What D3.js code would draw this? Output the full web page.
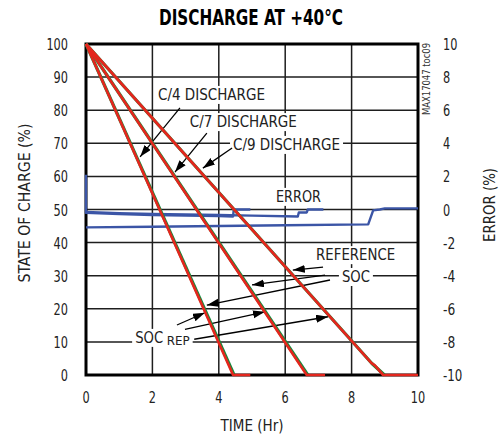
<!DOCTYPE html>
<html><head><meta charset="utf-8">
<script src="https://cdn.jsdelivr.net/npm/d3@7"></script>
<style>
html,body{margin:0;padding:0;background:#fff;}
svg text{font-family:"Liberation Sans Narrow","DejaVu Sans Condensed","Liberation Sans",sans-serif;fill:#222;}
</style></head>
<body><svg id="c" width="500" height="438"></svg>
<script>
// ---------------- data ----------------
const xTicks = [0, 2, 4, 6, 8, 10];
const socTicks = [0, 10, 20, 30, 40, 50, 60, 70, 80, 90, 100];
const errTicks = [-10, -8, -6, -4, -2, 0, 2, 4, 6, 8, 10];

// SOC_REP (red) : [time hr, SOC %]
const socRepC4 = [[0,100],[4.43,0],[4.95,0]];
const socRepC7 = [[0,100],[6.65,0],[7.2,0]];
const socRepC9 = [[0,100],[8.6,3.6],[8.7,2.9],[8.95,0],[10,0]];
// Reference SOC (green)
const refC4 = [[0,100],[4.46,0]];
const refC7 = [[0,100],[6.68,0]];
const refC9 = [[0,100],[8.62,3.4],[8.99,0]];
// Error (blue) : [time hr, error %]
const errC4 = [[0,2.1],[0,-0.2],[1,-0.28],[2,-0.33],[3,-0.37],[4,-0.4],[4.43,-0.42],[4.45,0.0],[4.95,0.0]];
const errC7 = [[0,-0.15],[1,-0.22],[2,-0.27],[3,-0.3],[4,-0.33],[5,-0.37],[6.38,-0.42],[6.41,-0.18],[6.65,-0.18],[6.68,0.0],[7.15,0.0]];
const errC9 = [[0,-1.08],[2,-1.04],[4,-1.0],[6,-0.95],[8.5,-0.9],[8.58,-0.45],[8.65,-0.05],[8.85,0.0],[9.0,0.07],[10,0.07]];

// ---------------- layout ----------------
const L = 86, R = 418, T = 44, B = 375;
const svg = d3.select("#c");
const x = d3.scaleLinear().domain([0,10]).range([L,R]);
const y = d3.scaleLinear().domain([0,100]).range([B,T]);
const yE = d3.scaleLinear().domain([-10,10]).range([B,T]);

const RED = "#e4261d", GREEN = "#128a3c", BLUE = "#3b55a6", GRID = "#1e1e1e";

function fit(sel, w){ return sel.attr("textLength", w).attr("lengthAdjust","spacingAndGlyphs"); }
function tickW(d){ const s = String(d); let w = 0; for (const c of s) w += (c === "-" ? 5 : 7.2); return w; }

// arrow marker
svg.append("defs").append("marker")
  .attr("id","ah").attr("markerUnits","userSpaceOnUse")
  .attr("markerWidth",14).attr("markerHeight",10)
  .attr("refX",12).attr("refY",4).attr("orient","auto")
  .append("path").attr("d","M0,0 L12,4 L0,8 Z").attr("fill","#000");

// gridlines
const g = svg.append("g");
g.selectAll(".vg").data(xTicks.slice(1,-1)).join("line")
  .attr("x1",d=>x(d)).attr("x2",d=>x(d)).attr("y1",T).attr("y2",B)
  .attr("stroke",GRID).attr("stroke-width",1.5);
g.selectAll(".hg").data(socTicks.slice(1,-1)).join("line")
  .attr("x1",L).attr("x2",R).attr("y1",d=>y(d)).attr("y2",d=>y(d))
  .attr("stroke",GRID).attr("stroke-width",1.5);

// annotations (positions in data units: time, SOC%)
const labels = [
  {t:3.78, s:83.1, text:"C/4 DISCHARGE", w:107, fs:16.5, anchor:"middle"},
  {t:4.74, s:74.9, text:"C/7 DISCHARGE", w:107, fs:16.5, anchor:"middle"},
  {t:6.04, s:68.0, text:"C/9 DISCHARGE", w:107, fs:16.5, anchor:"middle"},
  {t:6.40, s:52.3, text:"ERROR", w:45, fs:16.5, anchor:"middle"},
  {t:8.12, s:34.7, text:"REFERENCE", w:79, fs:16.5, anchor:"middle"},
  {t:8.13, s:28.1, text:"SOC", w:28, fs:16.5, anchor:"middle"},
  {t:1.48, s:9.7, text:"SOC", w:28, fs:16.5, anchor:"start"},
  {t:2.43, s:9.1, text:"REP", w:23, fs:13, anchor:"start"}
];
const leaders = [
  [[2.83,80.7],[1.63,65.9]],
  [[3.64,73.1],[2.68,61.3]],
  [[4.40,68.6],[3.52,62.5]],
  [[7.14,32.6],[6.23,31.7]],
  [[7.20,30.2],[5.00,27.2]],
  [[7.35,28.7],[3.64,21.1]],
  [[2.74,15.1],[3.58,18.8]],
  [[2.98,13.8],[5.39,19.1]],
  [[3.26,10.8],[7.29,17.6]]
];

const knock = svg.append("g");
const txt = svg.append("g");
labels.forEach(l=>{
  fit(txt.append("text").attr("x",x(l.t)).attr("y",y(l.s))
    .attr("text-anchor",l.anchor).attr("font-size",l.fs).text(l.text), l.w);
});

txt.selectAll("text").each(function(){
  const b = this.getBBox();
  knock.append("rect").attr("x",b.x-3).attr("y",b.y+1).attr("width",b.width+6).attr("height",b.height-1)
    .attr("fill","#fff");
});

// leaders
svg.append("g").selectAll("line").data(leaders).join("line")
  .attr("x1",d=>x(d[0][0])).attr("y1",d=>y(d[0][1]))
  .attr("x2",d=>x(d[1][0])).attr("y2",d=>y(d[1][1]))
  .attr("stroke","#000").attr("stroke-width",1.3).attr("marker-end","url(#ah)");

// frame
svg.append("rect").attr("x",L).attr("y",T).attr("width",R-L).attr("height",B-T)
  .attr("fill","none").attr("stroke","#000").attr("stroke-width",3);

// curves
const lineS = d3.line().x(d=>x(d[0])).y(d=>y(d[1]));
const lineE = d3.line().x(d=>x(d[0])).y(d=>yE(d[1]));
const curves = svg.append("g").attr("fill","none").attr("stroke-linejoin","round");
[errC4, errC7, errC9].forEach(s=>curves.append("path").attr("d",lineE(s)).attr("stroke",BLUE).attr("stroke-width",2.4));
[refC4, refC7, refC9].forEach(s=>curves.append("path").attr("d",lineS(s)).attr("stroke",GREEN).attr("stroke-width",3.2));
[socRepC4, socRepC7, socRepC9].forEach(s=>curves.append("path").attr("d",lineS(s)).attr("stroke",RED).attr("stroke-width",2.7));

// axes tick labels
const ax = svg.append("g");
ax.selectAll(".lt").data(socTicks).join("text")
  .attr("x",68).attr("y",d=>y(d)+6).attr("text-anchor","end").attr("font-size",16.5)
  .attr("textLength",d=>tickW(d)).attr("lengthAdjust","spacingAndGlyphs").text(d=>d);
ax.selectAll(".rt").data(errTicks).join("text")
  .attr("x",443).attr("y",d=>yE(d)+6).attr("text-anchor","start").attr("font-size",16.5)
  .attr("textLength",d=>tickW(d)).attr("lengthAdjust","spacingAndGlyphs").text(d=>d);
ax.selectAll(".bt").data(xTicks).join("text")
  .attr("x",d=>x(d)).attr("y",403).attr("text-anchor","middle").attr("font-size",16.5)
  .attr("textLength",d=>tickW(d)).attr("lengthAdjust","spacingAndGlyphs").text(d=>d);

// titles
fit(svg.append("text").attr("x",251).attr("y",25).attr("text-anchor","middle")
  .attr("font-size",21).attr("font-weight","bold").style("fill","#000").text("DISCHARGE AT +40°C"), 184);
fit(svg.append("text").attr("x",252).attr("y",431).attr("text-anchor","middle").attr("font-size",16.5).text("TIME (Hr)"), 63);
fit(svg.append("text").attr("transform","translate(30,203) rotate(-90)").attr("text-anchor","middle")
  .attr("font-size",16.5).text("STATE OF CHARGE (%)"), 159);
fit(svg.append("text").attr("transform","translate(495,205) rotate(-90)").attr("text-anchor","middle")
  .attr("font-size",16.5).text("ERROR (%)"), 74);
fit(svg.append("text").attr("transform","translate(430,79) rotate(-90)").attr("text-anchor","middle")
  .attr("font-size",10).style("fill","#333").text("MAX17047 toc09"), 72);
</script></body></html>
